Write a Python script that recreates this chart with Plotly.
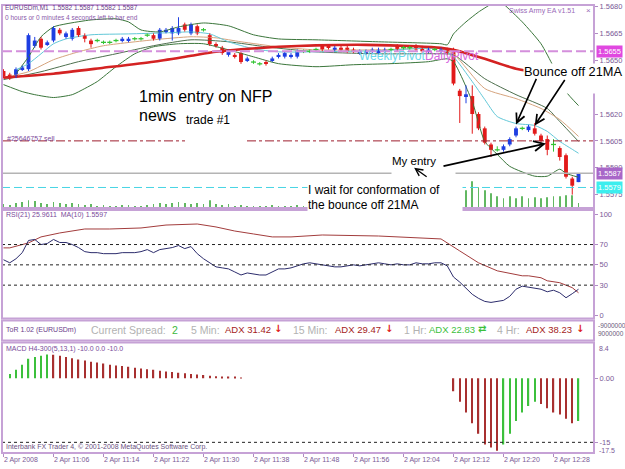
import plotly.graph_objects as go

# ------------------------------------------------------------------ data
bar_index = list(range(93))
opens = [1.5644,1.5642,1.5641,1.5645,1.5645,1.5658,1.5662,1.5659,1.5661,1.5667,
         1.5663,1.5662,1.5668,1.5664,1.5661,1.5661,1.5660,1.5660,1.5661,1.5661,
         1.5661,1.5662,1.5662,1.5664,1.5664,1.5662,1.5666,1.5665,1.5665,1.5670,
         1.5665,1.5669,1.5667,1.5664,1.5659,1.5657,1.5653,1.5653,1.5654,1.5650,
         1.5649,1.5648,1.5649,1.5650,1.5652,1.5652,1.5652,1.5652,1.5655,1.5655,
         1.5656,1.5658,1.5658,1.5656,1.5657,1.5657,1.5656,1.5654,1.5654,1.5655,
         1.5654,1.5655,1.5656,1.5658,1.5657,1.5657,1.5658,1.5657,1.5655,1.5656,
         1.5655,1.5656,1.5655,1.5633,1.5630,1.5630,1.5620,1.5612,1.5603,1.5600,
         1.5600,1.5603,1.5608,1.5612,1.5611,1.5612,1.5608,1.5606,1.5603,1.5601,
         1.5597,1.5584,1.5582]
highs = [1.5645,1.5643,1.5646,1.5647,1.5665,1.5663,1.5663,1.5661,1.5669,1.5668,
         1.5666,1.5668,1.5669,1.5665,1.5662,1.5662,1.5661,1.5661,1.5662,1.5663,
         1.5663,1.5663,1.5663,1.5665,1.5665,1.5668,1.5668,1.5669,1.5674,1.5671,
         1.5671,1.5670,1.5668,1.5665,1.5660,1.5658,1.5656,1.5654,1.5655,1.5652,
         1.5650,1.5649,1.5650,1.5652,1.5654,1.5655,1.5654,1.5656,1.5656,1.5656,
         1.5657,1.5659,1.5659,1.5658,1.5658,1.5658,1.5657,1.5656,1.5656,1.5657,
         1.5657,1.5657,1.5657,1.5659,1.5658,1.5658,1.5659,1.5658,1.5657,1.5657,
         1.5657,1.5657,1.5657,1.5634,1.5636,1.5636,1.5621,1.5613,1.5604,1.5602,
         1.5603,1.5607,1.5613,1.5613,1.5614,1.5615,1.5609,1.5608,1.5606,1.5602,
         1.5598,1.5585,1.5587]
lows = [1.5640,1.5639,1.5640,1.5644,1.5644,1.5657,1.5656,1.5658,1.5660,1.5664,
        1.5662,1.5661,1.5663,1.5660,1.5657,1.5660,1.5659,1.5659,1.5660,1.5660,
        1.5660,1.5661,1.5661,1.5663,1.5661,1.5661,1.5665,1.5661,1.5664,1.5666,
        1.5664,1.5664,1.5666,1.5658,1.5657,1.5653,1.5652,1.5651,1.5648,1.5649,
        1.5648,1.5647,1.5647,1.5649,1.5651,1.5651,1.5651,1.5651,1.5654,1.5654,
        1.5655,1.5655,1.5656,1.5655,1.5655,1.5654,1.5654,1.5653,1.5653,1.5654,
        1.5653,1.5654,1.5655,1.5655,1.5656,1.5656,1.5655,1.5654,1.5654,1.5655,
        1.5654,1.5653,1.5636,1.5615,1.5626,1.5609,1.5611,1.5603,1.5596,1.5599,
        1.5599,1.5602,1.5607,1.5611,1.5610,1.5608,1.5604,1.5597,1.5599,1.5594,
        1.5584,1.5575,1.5582]
closes = [1.5641,1.5640,1.5645,1.5646,1.5664,1.5661,1.5657,1.5660,1.5668,1.5665,
          1.5665,1.5667,1.5664,1.5662,1.5659,1.5661,1.5660,1.5660,1.5661,1.5662,
          1.5662,1.5662,1.5662,1.5664,1.5662,1.5667,1.5667,1.5668,1.5668,1.5667,
          1.5670,1.5665,1.5667,1.5659,1.5658,1.5654,1.5655,1.5652,1.5649,1.5651,
          1.5649,1.5648,1.5648,1.5651,1.5653,1.5654,1.5653,1.5655,1.5655,1.5655,
          1.5656,1.5656,1.5657,1.5657,1.5656,1.5655,1.5655,1.5655,1.5655,1.5656,
          1.5656,1.5656,1.5656,1.5656,1.5657,1.5657,1.5656,1.5655,1.5656,1.5656,
          1.5656,1.5654,1.5637,1.5630,1.5631,1.5620,1.5612,1.5604,1.5600,1.5600,
          1.5602,1.5606,1.5612,1.5612,1.5613,1.5609,1.5605,1.5600,1.5603,1.5596,
          1.5585,1.5580,1.5587]
volumes = [8,6,10,12,16,14,10,8,12,10, 8,10,8,6,8,4,6,4,4,6,
           6,4,4,6,8,10,8,10,12,10, 8,10,8,16,8,6,8,4,6,4,
           4,4,4,6,4,4,4,6,4,4, 10,10,12,10,8,10,12,10,10,8,
           10,12,10,10,8,12,10,10,12,12, 14,16,30,36,36,54,42,36,30,24,
           20,24,20,24,20,22,20,22,24,24, 26,26,10]

time_tick_bars = [0, 8, 16, 24, 32, 40, 48, 56, 64, 72, 80, 88]
time_tick_labels = ["2 Apr 2008", "2 Apr 11:06", "2 Apr 11:14", "2 Apr 11:22",
                    "2 Apr 11:30", "2 Apr 11:38", "2 Apr 11:48", "2 Apr 11:56",
                    "2 Apr 12:04", "2 Apr 12:12", "2 Apr 12:20", "2 Apr 12:28"]
price_ticks = [1.5575, 1.5590, 1.5605, 1.5620, 1.5650, 1.5665, 1.5680]

ma_red_bars = [0, 8, 16, 24, 30, 34, 38, 44, 50, 58, 66, 70, 72, 77, 82, 86, 92]
ma_red_vals = [1.56403, 1.56425, 1.56458, 1.56492, 1.56525, 1.56547, 1.56561, 1.56575,
               1.56583, 1.56586, 1.56578, 1.56569, 1.56558, 1.56508, 1.56453, 1.56431, 1.56408]
ma_cyan_bars = [2, 4, 6, 8, 10, 14, 20, 26, 30, 33, 36, 40, 44, 50, 60, 70, 72, 75, 77, 79,
                82, 85, 87, 89, 91, 92]
ma_cyan_vals = [1.56447, 1.56481, 1.56536, 1.56592, 1.56619, 1.56642, 1.56647, 1.56653,
                1.56658, 1.56647, 1.56603, 1.56564, 1.56547, 1.56547, 1.56553, 1.56564,
                1.56519, 1.56381, 1.56281, 1.56186, 1.56147, 1.56136, 1.56103, 1.56047,
                1.56003, 1.55981]
ma_tan_bars = [0, 4, 8, 12, 16, 24, 30, 34, 38, 44, 50, 60, 70, 72, 77, 82, 86, 89, 92]
ma_tan_vals = [1.56403, 1.56436, 1.56503, 1.56547, 1.56581, 1.56614, 1.56631, 1.56625,
               1.56603, 1.56575, 1.56558, 1.56558, 1.56564, 1.56536, 1.56342, 1.56286,
               1.56231, 1.56169, 1.56075]
ma_slow_bars = [0, 6, 12, 18, 24, 30, 36, 42, 50, 60, 70, 72, 77, 82, 87, 89, 92]
ma_slow_vals = [1.56392, 1.56436, 1.56492, 1.56536, 1.56581, 1.56614, 1.56603, 1.56575,
                1.56547, 1.56536, 1.56536, 1.56531, 1.56397, 1.56308, 1.56231, 1.56158, 1.56047]
bb_up_bars = [2, 4, 6, 8, 10, 14, 18, 20, 22, 25, 28, 32, 36, 40, 44, 50, 60, 70, 71, 72,
              74, 76, 78, 79, 80, 83, 86, 88, 90, 92]
bb_up_vals = [1.56425, 1.56519, 1.56631, 1.56686, 1.56703, 1.56725, 1.56731, 1.56714,
              1.56669, 1.56658, 1.56686, 1.56708, 1.56692, 1.56642, 1.56619, 1.56614,
              1.56603, 1.56592, 1.56586, 1.56647, 1.56714, 1.56769, 1.56814, 1.56842,
              1.56814, 1.56714, 1.56592, 1.56464, 1.56325, 1.56247]
bb_lo_bars = [0, 3, 5, 8, 11, 13, 15, 18, 21, 24, 28, 32, 36, 40, 44, 50, 56, 62, 68, 71,
              72, 75, 77, 79, 81, 85, 87, 89, 90, 92]
bb_lo_vals = [1.56364, 1.56325, 1.56308, 1.56292, 1.56308, 1.56342, 1.56381, 1.56464,
              1.56536, 1.56575, 1.56592, 1.56592, 1.56558, 1.56519, 1.56481, 1.56464,
              1.56475, 1.56481, 1.56492, 1.56508, 1.56492, 1.56269, 1.56047, 1.55975,
              1.55908, 1.55853, 1.55853, 1.55892, 1.55869, 1.55847]

rsi_vals = [55, 52, 56, 62, 74, 75, 70, 71, 75, 72, 72, 70, 67, 63, 62, 62, 61, 61, 61, 62,
            62, 62, 63, 65, 62, 65, 66, 67, 69, 66, 68, 61, 56, 52, 48, 47, 46, 43, 40, 42,
            41, 40, 40, 43, 46, 46, 47, 49, 51, 52, 51, 50, 49, 48, 48, 49, 50, 49, 50, 51,
            52, 51, 50, 51, 50, 50, 52, 51, 51, 52, 52, 49, 38, 33, 27, 21, 17, 14, 13, 14,
            15, 19, 26, 29, 28, 27, 26, 23.5, 25, 22.5, 17.6, 21.6, 26]
rsi_ma_bars = [0, 1, 4, 6, 9, 13, 17, 22, 26, 29, 31, 34, 37, 40, 43, 46, 51, 60, 70, 73,
               76, 79, 83, 84, 86, 87, 89, 91, 92]
rsi_ma_vals = [66.7, 66.7, 71.6, 77.5, 81.4, 85.3, 85.3, 86.3, 89.2, 90.2, 90.2, 87.3, 83.3,
               80.4, 77.5, 77.5, 79.4, 78.4, 75.5, 63.7, 52.0, 44.1, 39.2, 39.2, 37.3, 34.3,
               32.4, 27.5, 22.5]
rsi_levels = [70, 50, 30]

macd_vals = [0, 1.0, 2.0, 3.2, 4.6, 5.0, 5.3, 5.6, 5.5, 5.3, 5.0, 4.7, 4.4, 4.2, 3.9, 3.7,
             3.5, 3.2, 3.0, 2.9, 2.7, 2.5, 2.3, 2.1, 2.0, 1.8, 1.6, 1.5, 1.3, 1.2, 1.0, 0.9,
             0.8, 0.6, 0.5, 0.4, 0.3, 0.2, 0.1] + [0] * 33 + \
            [-3.0, -5.5, -8.0, -10.5, -13.0, -15.5, -16.2, -17.0, -15.5, -13.0, -10.0, -8.0,
             -6.5, -5.5, -6.0, -7.0, -8.0, -8.5, -9.5, -10.5, -10.0]

level_weekly = 1.5655
level_sell = 1.5605
level_bid = 1.5587
level_ask = 1.5579

# ------------------------------------------------------------------ helpers
W, H = 625, 469
ML, MR, MT, MB = 2, 31, 3, 16
PW, PH = W - ML - MR, H - MT - MB


def PX(x):
    return (x - ML) / PW


def PY(y):
    return (H - MB - y) / PH


PURPLE = "#c6a2d6"
AXTXT = "#7a5a96"
BLUE = "#1e3ee2"
RED = "#e21a1a"
DOJI = "#33c433"
FONT = "Liberation Sans"

fig = go.Figure()

# volume (behind everything)
fig.add_trace(go.Bar(x=bar_index, y=volumes, width=0.16, marker=dict(color="#62b862", line=dict(width=0)),
                     xaxis="x", yaxis="y2", hoverinfo="skip"))

# moving averages / bands
for bx, vals, col, wd in [
    (bb_up_bars, bb_up_vals, "#3b763b", 1),
    (bb_lo_bars, bb_lo_vals, "#3b763b", 1),
    (ma_slow_bars, ma_slow_vals, "#4d6f4d", 1),
    (ma_tan_bars, ma_tan_vals, "#d6a47e", 1),
    (ma_cyan_bars, ma_cyan_vals, "#62c8d8", 1),
    (ma_red_bars, ma_red_vals, "#d42222", 2.6),
]:
    fig.add_trace(go.Scatter(x=bx, y=vals, mode="lines", line=dict(color=col, width=wd, shape="spline", smoothing=0.6),
                             xaxis="x", yaxis="y", hoverinfo="skip"))

# candles: wicks + bodies
groups = [
    ([i for i in bar_index if closes[i] > opens[i]], BLUE),
    ([i for i in bar_index if closes[i] < opens[i]], RED),
    ([i for i in bar_index if closes[i] == opens[i]], DOJI),
]
for idx, col in groups:
    wx, wy = [], []
    for i in idx:
        wx += [i, i, None]
        wy += [lows[i], highs[i], None]
    fig.add_trace(go.Scatter(x=wx, y=wy, mode="lines", line=dict(color=col, width=1),
                             xaxis="x", yaxis="y", hoverinfo="skip"))
for idx, col in groups[:2]:
    fig.add_trace(go.Bar(x=idx, y=[abs(closes[i] - opens[i]) for i in idx],
                         base=[min(opens[i], closes[i]) for i in idx], width=0.62,
                         marker=dict(color=col, line=dict(width=0)), xaxis="x", yaxis="y", hoverinfo="skip"))
dx, dy = [], []
for i in groups[2][0]:
    dx += [i - 0.4, i + 0.4, None]
    dy += [closes[i], closes[i], None]
fig.add_trace(go.Scatter(x=dx, y=dy, mode="lines", line=dict(color=DOJI, width=1.3),
                         xaxis="x", yaxis="y", hoverinfo="skip"))

# RSI
fig.add_trace(go.Scatter(x=rsi_ma_bars, y=rsi_ma_vals, mode="lines", line=dict(color="#a23c3c", width=1),
                         xaxis="x", yaxis="y3", hoverinfo="skip"))
fig.add_trace(go.Scatter(x=bar_index, y=rsi_vals, mode="lines", line=dict(color="#2c2c6c", width=1),
                         xaxis="x", yaxis="y3", hoverinfo="skip"))

# MACD histogram
macd_cols = []
for i, v in enumerate(macd_vals):
    prev = macd_vals[i - 1] if i > 0 else 0
    macd_cols.append("#3cc03c" if v > prev else "#a83030")
fig.add_trace(go.Bar(x=bar_index, y=macd_vals, width=0.22, marker=dict(color=macd_cols, line=dict(width=0)),
                     xaxis="x", yaxis="y4", hoverinfo="skip"))

# ------------------------------------------------------------------ shapes
shapes = []
def hline(yv, yref, col, wd, dash, x0=0, x1=1):
    shapes.append(dict(type="line", xref="paper", yref=yref, x0=x0, x1=x1, y0=yv, y1=yv,
                       line=dict(color=col, width=wd, dash=dash)))

hline(level_weekly, "y", "#d48fdc", 2, "10px,4px")
hline(level_sell, "y", "#9e1e2e", 1, "dashdot", 0, PX(185))
hline(level_sell, "y", "#9e1e2e", 1, "dashdot", PX(247), 1)
hline(level_bid, "y", "#b4b4b4", 1.5, "solid")
hline(level_ask, "y", "#46d4e4", 1, "8px,4px")
for lv in rsi_levels:
    hline(lv, "y3", "#222222", 1, "3px,3px")
hline(-15, "y4", "#222222", 1, "3px,3px")

for (t, b) in [(3, 207), (209, 318), (320, 340), (342, 453)]:
    shapes.append(dict(type="rect", xref="paper", yref="paper", x0=0, x1=1, y0=PY(b), y1=PY(t),
                       line=dict(color=PURPLE, width=2)))

# ------------------------------------------------------------------ annotations
ann = []
def txt(x, y, s, col, size, family=FONT, xanchor="left", **kw):
    ann.append(dict(xref="paper", yref="paper", x=PX(x), y=PY(y), text=s, showarrow=False,
                    xanchor=xanchor, yanchor="middle", font=dict(color=col, size=size, family=family), **kw))

def box(x, ytop, w, h, s, col, size, valign="middle"):
    ann.append(dict(xref="paper", yref="paper", x=PX(x), y=PY(ytop), text=s, showarrow=False,
                    xanchor="left", yanchor="top", width=w, height=h, align="left", valign=valign,
                    bgcolor="white", borderpad=0, font=dict(color=col, size=size, family=FONT)))

# header texts
txt(3, 6, "EURUSDm,M1  1.5582 1.5587 1.5582 1.5587", "#6a3d8a", 6.5)
txt(3, 15.5, "0 hours or 0 minutes 4 seconds left to bar end", "#8a5aaa", 6.5)
txt(507, 9, "Swiss Army EA v1.51", "#9a6ab8", 7)
txt(584, 9, "×", "#9a6ab8", 8)
txt(5, 137.5, "#25646757 sell", "#7a4a9a", 7)
txt(357, 54, "WeeklyPivot", "#6ad8ea", 12)
txt(423, 54, "DailyPivot", "#d66ae0", 12)
txt(137, 95, "1min entry on NFP", "#000000", 16)
txt(137, 114, "news", "#000000", 16)
txt(184, 119, "trade #1", "#000000", 12)
box(523, 61, 104, 29, "Bounce off 21MA", "#000000", 12.8, valign="top")
box(391, 153, 63, 27, "My entry", "#000000", 11.5, valign="top")
box(307, 180, 154, 31, "I wait for conformation of<br>the bounce off 21MA", "#000000", 12)

# axis value boxes
for yv, bg in [(level_weekly, "#e048e0"), (level_bid, "#a866c8"), (level_ask, "#3ceeee")]:
    ann.append(dict(xref="paper", yref="y", x=1 + 2 / PW, y=yv, text="%.4f" % yv, showarrow=False,
                    xanchor="left", yanchor="middle", bgcolor=bg, borderpad=1,
                    font=dict(color="white", size=7.5, family=FONT)))

# RSI / ADX / MACD texts
txt(4, 214, "RSI(21) 25.9611  MA(10) 1.5597", "#7a4a9a", 7)
txt(4, 329, "ToR 1.02 (EURUSDm)", "#6a3d8a", 7)
adx_items = [(89, "Current Spread:", "#b2b2b2", 10.5), (170, "2", "#3cb83c", 10.5),
             (189, "5 Min:", "#b2b2b2", 10.5), (223, "ADX 31.42", "#a41c1c", 9.5),
             (291, "15 Min:", "#b2b2b2", 10.5), (333, "ADX 29.47", "#a41c1c", 9.5),
             (402, "1 Hr:", "#b2b2b2", 10.5), (427, "ADX 22.83", "#3cc03c", 9.5),
             (495, "4 Hr:", "#b2b2b2", 10.5), (524, "ADX 38.23", "#a41c1c", 9.5)]
for x, s, c, sz in adx_items:
    txt(x, 329, s, c, sz)
for x, s, c in [(272, "↓", "#e02020"), (383, "↓", "#e02020"), (476, "⇄", "#3cc03c"), (574, "↓", "#e02020")]:
    txt(x, 328, "<b>%s</b>" % s, c, 10, family="DejaVu Sans")
txt(596, 325, "-9000000", "#6a5a7a", 6.5)
txt(596, 333, "9000000", "#6a5a7a", 6.5)
txt(4, 349, "MACD H4-300(5,13,1) -10.0 0.0 -10.0", "#7a4a9a", 7)
txt(597, 348, "8.4", AXTXT, 7)
txt(597, 450, "-17.5", AXTXT, 7)
txt(4, 447, "Interbank FX Trader 4, © 2001-2008 MetaQuotes Software Corp.", "#6a5080", 7)

# arrows
def arrow(xi, price, ax, ay, w=1.6):
    ann.append(dict(xref="x", yref="y", x=xi, y=price, ax=ax, ay=ay, text="", showarrow=True,
                    arrowhead=5, arrowsize=1.1, arrowwidth=w, arrowcolor="#000000", standoff=0))

arrow(82.0, 1.56142, 21, -47)
arrow(85.0, 1.56136, 31, -47)
arrow(86.8, 1.56036, -104, 23, 1.8)
arrow(65.7, 1.55900, 14, 10, 1.3)

axis_common = dict(showgrid=False, zeroline=False, ticks="outside", ticklen=3, tickcolor="#b08cc4",
                   showline=True, linecolor="#b08cc4", linewidth=1,
                   tickfont=dict(size=7.5, color=AXTXT, family=FONT))

fig.update_layout(
    width=W, height=H, margin=dict(l=ML, r=MR, t=MT, b=MB),
    paper_bgcolor="white", plot_bgcolor="white", showlegend=False, barmode="overlay",
    xaxis=dict(domain=[0, 1], range=[-0.24, 94.48], anchor="y4", showgrid=False, zeroline=False,
               ticks="outside", ticklen=3, tickcolor="#b08cc4", showline=False,
               tickvals=time_tick_bars, ticktext=time_tick_labels, ticklabelposition="outside right",
               tickfont=dict(size=7, color=AXTXT, family=FONT)),
    yaxis=dict(domain=[PY(207), 1], range=[1.55675, 1.568083], side="right", anchor="x",
               tickvals=price_ticks, ticktext=["%.4f" % v for v in price_ticks], **axis_common),
    yaxis2=dict(overlaying="y", range=[0, 408], visible=False, anchor="x"),
    yaxis3=dict(domain=[PY(318), PY(209)], range=[-2.94, 103.92], side="right", anchor="x",
                tickvals=[0, 30, 50, 70, 100], ticktext=["0", "30", "50", "70", "100"], **axis_common),
    yaxis4=dict(domain=[0, PY(342)], range=[-17.5, 8.4], side="right", anchor="x",
                tickvals=[0, -15], ticktext=["0.00", "-15"], **axis_common),
    shapes=shapes, annotations=ann,
)

fig.write_html("out.html")
